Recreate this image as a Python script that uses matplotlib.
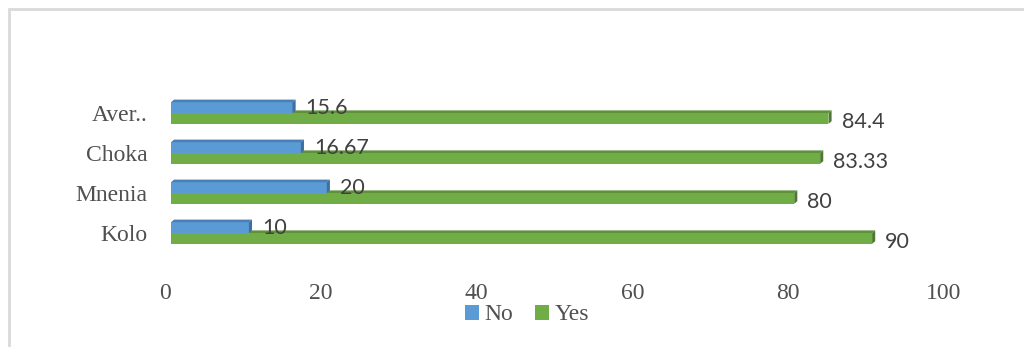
import matplotlib
matplotlib.use("Agg")
import matplotlib.pyplot as plt
from matplotlib.patches import Polygon, Rectangle, Patch
from matplotlib.transforms import ScaledTranslation

sites = ["Kolo", "Mnenia", "Choka", "Aver.."]
no_pct = [10, 20, 16.67, 15.6]
yes_pct = [90, 80, 83.33, 84.4]
no_labels = ["10", "20", "16.67", "15.6"]
yes_labels = ["90", "80", "83.33", "84.4"]

BLUE, BLUE_DARK, BLUE_TOP = "#5B9BD5", "#3F6F9C", "#4A7FB5"
GREEN, GREEN_DARK, GREEN_TOP = "#70AD47", "#4E7A30", "#5E9139"

fig = plt.figure(figsize=(10.24, 3.47), dpi=100)
ax = fig.add_axes([171 / 1024, 1 - 257 / 347, 779 / 1024, 167 / 347])

bar_h = 0.27
dx, dz = 0.4, 0.065


def bar3d(ax, y0, value, face, side, top):
    # front face plus a thin top and right face for a bevelled look
    ax.add_patch(Rectangle((0, y0), value, bar_h, facecolor=face, edgecolor="none"))
    ax.add_patch(Polygon([(0, y0 + bar_h), (dx, y0 + bar_h + dz),
                          (value + dx, y0 + bar_h + dz), (value, y0 + bar_h)],
                         closed=True, facecolor=top, edgecolor="none"))
    ax.add_patch(Polygon([(value, y0), (value + dx, y0 + dz),
                          (value + dx, y0 + bar_h + dz), (value, y0 + bar_h)],
                         closed=True, facecolor=side, edgecolor="none"))


label_font = dict(family=["Lato", "DejaVu Sans"], fontsize=15.5, color="#404040")

for i in range(len(sites)):
    # green (Yes) sits below the category line, blue (No) above it
    bar3d(ax, i - bar_h, yes_pct[i], GREEN, GREEN_DARK, GREEN_TOP)
    bar3d(ax, i, no_pct[i], BLUE, BLUE_DARK, BLUE_TOP)
    ax.text(no_pct[i] + 1.7, i + bar_h / 2 - 0.02, no_labels[i],
            va="center", ha="left", **label_font)
    ax.text(yes_pct[i] + 1.7, i - bar_h / 2 - 0.08, yes_labels[i],
            va="center", ha="left", **label_font)

ax.set_xlim(0, 100)
ax.set_ylim(-0.6, 3.575)
ax.set_xticks([0, 20, 40, 60, 80, 100])
ax.set_yticks(range(len(sites)))
ax.set_yticklabels(sites)
for s in ax.spines.values():
    s.set_visible(False)
ax.tick_params(axis="both", length=0, labelsize=17, labelcolor="#505050")
ax.tick_params(axis="x", pad=19)
ax.tick_params(axis="y", pad=17)
# value labels sit a little left of the bar origin
shift = ScaledTranslation(-6 / 100, 0, fig.dpi_scale_trans)
for lbl in ax.get_xticklabels():
    lbl.set_transform(lbl.get_transform() + shift)
for lbl in ax.get_xticklabels() + ax.get_yticklabels():
    lbl.set_family("Liberation Serif")

handles = [Patch(facecolor=BLUE, label="No"), Patch(facecolor=GREEN, label="Yes")]
fig.legend(handles=handles, loc="center", bbox_to_anchor=(527 / 1024, 1 - 315 / 347),
           ncol=2, frameon=False, handlelength=0.6, handleheight=0.6,
           handletextpad=0.25, columnspacing=0.9,
           prop={"family": "Liberation Serif", "size": 17}, labelcolor="#505050")

# light grey chart-area border
fig.add_artist(Rectangle((9 / 1024, -0.2), 1.2, 1.2 - 9 / 347,
                         transform=fig.transFigure, fill=False,
                         edgecolor="#D9D9D9", linewidth=2))

fig.savefig("out.png", dpi=100)
